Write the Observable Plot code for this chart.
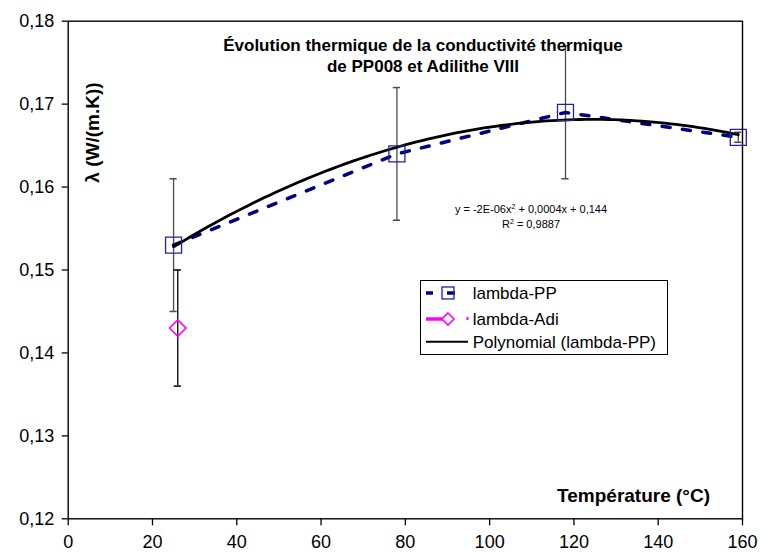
<!DOCTYPE html>
<html>
<head>
<meta charset="utf-8">
<script src="https://cdn.jsdelivr.net/npm/d3@7"></script>
<script src="https://cdn.jsdelivr.net/npm/@observablehq/plot@0.6"></script>
<style>
  html, body { margin: 0; padding: 0; background: white; }
  #chart { width: 760px; height: 553px; overflow: hidden; }
</style>
</head>
<body>
<div id="chart"></div>
<script>
// ---- data ----
const temps = [25, 78, 118, 159];
const lambdaPP = [0.153, 0.164, 0.169, 0.166];
const errPP = [0.008, 0.008, 0.008, 0.0006];
const tempsAdi = [26];
const lambdaAdi = [0.143];
const errAdi = [0.007];
const xTicks = [0, 20, 40, 60, 80, 100, 120, 140, 160];
const yTicks = [0.12, 0.13, 0.14, 0.15, 0.16, 0.17, 0.18];
const titleLines = ["Évolution thermique de la conductivité thermique", "de PP008 et Adilithe VIII"];
const seriesNames = ["lambda-PP", "lambda-Adi", "Polynomial (lambda-PP)"];

const pp = temps.map((t, i) => ({x: t, y: lambdaPP[i], e: errPP[i]}));
const adi = tempsAdi.map((t, i) => ({x: t, y: lambdaAdi[i], e: errAdi[i]}));

// quadratic least-squares trendline (as the spreadsheet computes it)
function quadFit(xs, ys) {
  let S = [0,0,0,0,0], T = [0,0,0];
  xs.forEach((x, i) => {
    for (let k = 0; k < 5; k++) S[k] += Math.pow(x, k);
    for (let k = 0; k < 3; k++) T[k] += ys[i] * Math.pow(x, k);
  });
  const A = [[S[0],S[1],S[2],T[0]],[S[1],S[2],S[3],T[1]],[S[2],S[3],S[4],T[2]]];
  for (let i = 0; i < 3; i++) {
    for (let j = i + 1; j < 3; j++) {
      const f = A[j][i] / A[i][i];
      for (let k = i; k < 4; k++) A[j][k] -= f * A[i][k];
    }
  }
  const c = [0,0,0];
  for (let i = 2; i >= 0; i--) {
    let s = A[i][3];
    for (let k = i + 1; k < 3; k++) s -= A[i][k] * c[k];
    c[i] = s / A[i][i];
  }
  return c;
}
const coef = quadFit(temps, lambdaPP);
const xmin = d3.min(temps), xmax = d3.max(temps);
const fit = d3.range(0, 101).map(i => {
  const x = xmin + (xmax - xmin) * i / 100;
  return {x, y: coef[0] + coef[1] * x + coef[2] * x * x};
});

const capW = 0.85;
const fmt = d => d3.format(".2f")(d).replace(".", ",");

const plot = Plot.plot({
  width: 760,
  height: 553,
  marginLeft: 67.7,
  marginRight: 18,
  marginTop: 20.7,
  marginBottom: 34.7,
  style: {fontFamily: "'Liberation Sans', Arial, sans-serif", fontSize: "18px", background: "white", color: "black", overflow: "visible"},
  x: {domain: [0, 160]},
  y: {domain: [0.12, 0.18]},
  marks: [
    Plot.axisX({ticks: xTicks, tickSize: 7, tickPadding: 9, label: null, fontSize: 18, strokeWidth: 1.3}),
    Plot.axisY({ticks: yTicks, tickSize: 6, tickPadding: 8, label: null, fontSize: 18, tickFormat: fmt, strokeWidth: 1.3}),
    // error bars
    Plot.ruleX(pp, {x: "x", y1: d => d.y - d.e, y2: d => d.y + d.e, stroke: "#4a4a4a", strokeWidth: 1.3}),
    Plot.ruleY(pp, {y: d => d.y - d.e, x1: d => d.x - capW, x2: d => d.x + capW, stroke: "#4a4a4a", strokeWidth: 1.5}),
    Plot.ruleY(pp, {y: d => d.y + d.e, x1: d => d.x - capW, x2: d => d.x + capW, stroke: "#4a4a4a", strokeWidth: 1.5}),
    Plot.ruleX(adi, {x: "x", y1: d => d.y - d.e, y2: d => d.y + d.e, stroke: "black", strokeWidth: 1.3}),
    Plot.ruleY(adi, {y: d => d.y - d.e, x1: d => d.x - capW, x2: d => d.x + capW, stroke: "black", strokeWidth: 1.5}),
    Plot.ruleY(adi, {y: d => d.y + d.e, x1: d => d.x - capW, x2: d => d.x + capW, stroke: "black", strokeWidth: 1.5}),
    // dashed series line
    Plot.line(pp, {x: "x", y: "y", stroke: "#000080", strokeWidth: 3.5, strokeDasharray: "8,12.5"}),
    // polynomial trendline
    Plot.line(fit, {x: "x", y: "y", stroke: "black", strokeWidth: 2.8}),
    // markers
    Plot.dot(pp, {x: "x", y: "y", symbol: "square", r: 9.03, stroke: "#22229a", strokeWidth: 1.3, fill: "none"}),
    Plot.dot(adi, {x: "x", y: "y", symbol: "diamond2", r: 7.39, stroke: "#ff00ff", strokeWidth: 1.6, fill: "none"}),
    Plot.frame({stroke: "black", strokeWidth: 1.4})
  ]
});
document.getElementById("chart").appendChild(plot);

const svg = d3.select(plot);
const bold = "'Liberation Sans', Arial, sans-serif";

// chart title inside plot
svg.append("text").attr("x", 423).attr("y", 50.5).attr("text-anchor", "middle")
  .attr("font-family", bold).attr("font-weight", "bold").attr("font-size", 17).text(titleLines[0]);
svg.append("text").attr("x", 423).attr("y", 71.5).attr("text-anchor", "middle")
  .attr("font-family", bold).attr("font-weight", "bold").attr("font-size", 17).text(titleLines[1]);

// axis titles
svg.append("text").attr("transform", "translate(99,132.5) rotate(-90)").attr("text-anchor", "middle")
  .attr("font-family", bold).attr("font-weight", "bold").attr("font-size", 19).text("λ (W/(m.K))");
svg.append("text").attr("x", 710).attr("y", 502).attr("text-anchor", "end")
  .attr("font-family", bold).attr("font-weight", "bold").attr("font-size", 19).text("Température (°C)");

// trendline equation
const eq = svg.append("text").attr("x", 531).attr("y", 212.5).attr("text-anchor", "middle")
  .attr("font-family", bold).attr("font-size", 11);
eq.append("tspan").text("y = -2E-06x");
eq.append("tspan").attr("dy", -4).attr("font-size", 7).text("2");
eq.append("tspan").attr("dy", 4).text(" + 0,0004x + 0,144");
const r2 = svg.append("text").attr("x", 531).attr("y", 227.5).attr("text-anchor", "middle")
  .attr("font-family", bold).attr("font-size", 11);
r2.append("tspan").text("R");
r2.append("tspan").attr("dy", -4).attr("font-size", 7).text("2");
r2.append("tspan").attr("dy", 4).text(" = 0,9887");

// legend
const lg = svg.append("g");
lg.append("rect").attr("x", 420.5).attr("y", 280.5).attr("width", 247).attr("height", 74)
  .attr("fill", "white").attr("stroke", "black").attr("stroke-width", 1);
const rows = [293, 319, 341.7];
// row 1
lg.append("line").attr("x1", 426).attr("x2", 433).attr("y1", rows[0]).attr("y2", rows[0]).attr("stroke", "#000080").attr("stroke-width", 3.5);
lg.append("line").attr("x1", 447).attr("x2", 455).attr("y1", rows[0]).attr("y2", rows[0]).attr("stroke", "#000080").attr("stroke-width", 3.5);
lg.append("rect").attr("x", 442).attr("y", rows[0] - 6).attr("width", 12).attr("height", 12).attr("fill", "none").attr("stroke", "#22229a").attr("stroke-width", 1.3);
// row 2
lg.append("line").attr("x1", 426).attr("x2", 446).attr("y1", rows[1]).attr("y2", rows[1]).attr("stroke", "#ff00ff").attr("stroke-width", 3.5);
lg.append("path").attr("d", `M448,${rows[1]-6}L454,${rows[1]}L448,${rows[1]+6}L442,${rows[1]}Z`).attr("fill", "white").attr("stroke", "#ff00ff").attr("stroke-width", 1.6);
lg.append("rect").attr("x", 466.5).attr("y", rows[1] - 2).attr("width", 2).attr("height", 3).attr("fill", "#ff00ff");
// row 3
lg.append("line").attr("x1", 426).attr("x2", 468).attr("y1", rows[2]).attr("y2", rows[2]).attr("stroke", "black").attr("stroke-width", 2);
seriesNames.forEach((n, i) => {
  lg.append("text").attr("x", 472.7).attr("y", rows[i] + 6).attr("text-anchor", "start")
    .attr("font-family", bold).attr("font-size", 17).text(n);
});
</script>
</body>
</html>
